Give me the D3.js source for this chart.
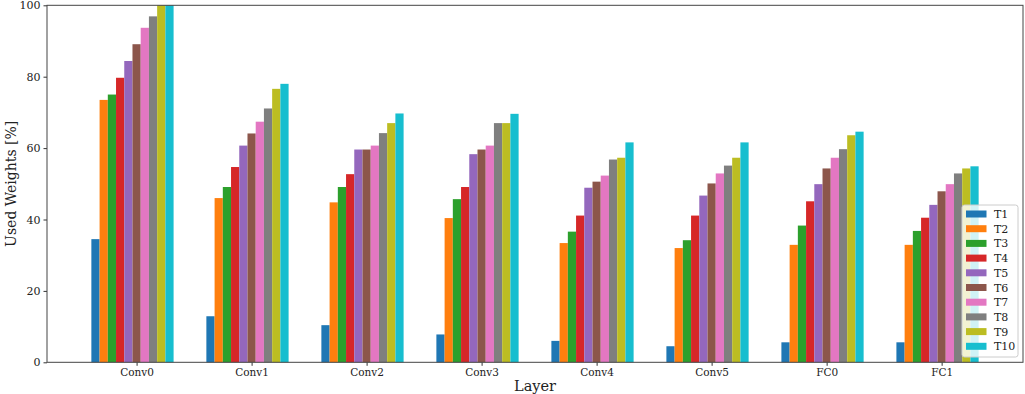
<!DOCTYPE html>
<html>
<head>
<meta charset="utf-8">
<script src="https://cdn.jsdelivr.net/npm/d3@7"></script>
<style>
  body { margin: 0; background: #fff; }
  text { font-family: "DejaVu Serif", serif; fill: #222; }
</style>
</head>
<body>
<div class="canvas"></div>
<script>
// data
const layers = ['Conv0', 'Conv1', 'Conv2', 'Conv3', 'Conv4', 'Conv5', 'FC0', 'FC1'];
const series = ['T1', 'T2', 'T3', 'T4', 'T5', 'T6', 'T7', 'T8', 'T9', 'T10'];

const T1  = [34.5, 12.9, 10.4,  7.8,  6.0,  4.5,  5.6,  5.6];
const T2  = [73.5, 46.0, 44.8, 40.4, 33.4, 32.0, 32.9, 32.9];
const T3  = [75.0, 49.1, 49.1, 45.7, 36.6, 34.2, 38.3, 36.8];
const T4  = [79.7, 54.7, 52.7, 49.1, 41.1, 41.1, 45.1, 40.5];
const T5  = [84.4, 60.7, 59.6, 58.3, 48.9, 46.7, 49.9, 44.1];
const T6  = [89.1, 64.1, 59.6, 59.6, 50.6, 50.1, 54.3, 47.9];
const T7  = [93.7, 67.4, 60.7, 60.7, 52.3, 52.9, 57.3, 49.9];
const T8  = [96.9, 71.1, 64.2, 67.0, 56.8, 55.1, 59.7, 52.9];
const T9  = [100,  76.6, 67.0, 67.0, 57.3, 57.3, 63.6, 54.3];
const T10 = [100,  78.0, 69.7, 69.6, 61.6, 61.6, 64.6, 54.9];

const values = [T1, T2, T3, T4, T5, T6, T7, T8, T9, T10];
const yTicks = [0, 20, 40, 60, 80, 100];

const colors = ['#1f77b4', '#ff7f0e', '#2ca02c', '#d62728', '#9467bd',
                '#8c564b', '#e377c2', '#7f7f7f', '#bcbd22', '#17becf'];

const dims = { width: 1025, height: 394 };
const plot = { left: 47, right: 1023, top: 5.3, bottom: 362.3 };
const barW = 0.0715; // in x-data units (layer index)

const svg = d3.select('.canvas')
              .append('svg')
              .attr('width', dims.width)
              .attr('height', dims.height);

// bars sit at layer index + (i-5)*barW, matplotlib-ish margins
const lo = -5.5 * barW, hi = layers.length - 1 + 4.5 * barW;
const pad = (hi - lo) * 0.05;
const x = d3.scaleLinear()
            .domain([lo - pad, hi + pad])
            .range([plot.left, plot.right]);

const y = d3.scaleLinear()
            .domain([0, 100])
            .range([plot.bottom, plot.top]);

const color = d3.scaleOrdinal().domain(series).range(colors);

// bars
const groups = svg.append('g')
                  .selectAll('g')
                  .data(series)
                  .enter()
                  .append('g')
                  .attr('fill', d => color(d));

groups.each(function(s, si) {
    d3.select(this).selectAll('rect')
        .data(values[si])
        .enter()
        .append('rect')
        .attr('x', (v, li) => x(li + (si - 5.5) * barW))
        .attr('width', (v, li) => x(li + (si - 4.5) * barW) - x(li + (si - 5.5) * barW))
        .attr('y', v => y(v))
        .attr('height', v => y(0) - y(v));
});

// axes
const xAxis = d3.axisBottom(x)
                .tickValues(d3.range(layers.length))
                .tickFormat(i => layers[i])
                .tickSizeOuter(0)
                .tickSize(3.5)
                .tickPadding(3);

const yAxis = d3.axisLeft(y)
                .tickValues(yTicks)
                .tickFormat(d3.format('d'))
                .tickSizeOuter(0)
                .tickSize(3.5)
                .tickPadding(3);

const gx = svg.append('g')
              .attr('transform', `translate(0, ${plot.bottom})`)
              .call(xAxis);
gx.select('.domain').remove();
gx.selectAll('text').attr('font-size', 10.5).attr('font-family', '"DejaVu Serif", serif').attr('fill', '#222');
gx.selectAll('line').attr('stroke', '#333');

const gy = svg.append('g')
              .attr('transform', `translate(${plot.left}, 0)`)
              .call(yAxis);
gy.select('.domain').remove();
gy.selectAll('text').attr('font-size', 11).attr('font-family', '"DejaVu Serif", serif').attr('fill', '#222');
gy.selectAll('line').attr('stroke', '#333');

// frame
svg.append('rect')
   .attr('x', plot.left)
   .attr('y', plot.top)
   .attr('width', plot.right - plot.left)
   .attr('height', plot.bottom - plot.top)
   .attr('fill', 'none')
   .attr('stroke', '#444')
   .attr('stroke-width', 1);

// axis labels
svg.append('text')
   .attr('x', (plot.left + plot.right) / 2)
   .attr('y', 391)
   .attr('text-anchor', 'middle')
   .attr('font-size', 14.5)
   .text('Layer');

svg.append('text')
   .attr('transform', `translate(16, ${(plot.top + plot.bottom) / 2}) rotate(-90)`)
   .attr('text-anchor', 'middle')
   .attr('font-size', 14)
   .text('Used Weights [%]');

// legend
const legend = svg.append('g')
                  .attr('transform', 'translate(962, 205)');

legend.append('rect')
      .attr('width', 56)
      .attr('height', 152)
      .attr('rx', 2.5)
      .attr('fill', '#fff')
      .attr('fill-opacity', 0.8)
      .attr('stroke', '#ccc')
      .attr('stroke-width', 1);

const rows = legend.selectAll('g.row')
                   .data(series)
                   .enter()
                   .append('g')
                   .attr('class', 'row')
                   .attr('transform', (d, i) => `translate(4, ${9 + i * 14.7})`);

rows.append('rect')
    .attr('x', 0)
    .attr('y', -3.5)
    .attr('width', 20.5)
    .attr('height', 7)
    .attr('fill', d => color(d));

rows.append('text')
    .attr('x', 28)
    .attr('y', 4)
    .attr('font-size', 11)
    .text(d => d);
</script>
</body>
</html>
